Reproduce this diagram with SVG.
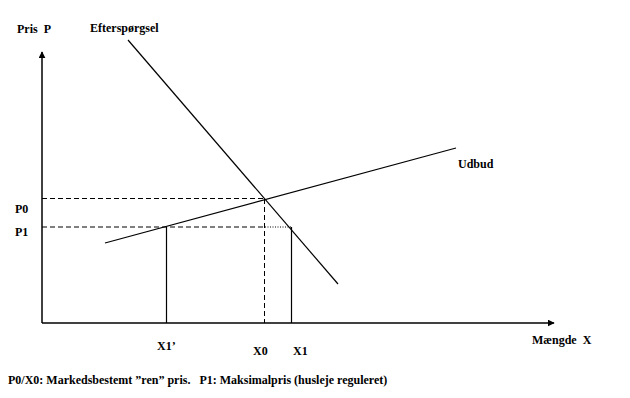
<svg xmlns="http://www.w3.org/2000/svg" width="630" height="398" viewBox="0 0 630 398">
<style>
text{font-family:'Liberation Serif','DejaVu Serif',serif;font-weight:bold;font-size:12px;fill:#000;white-space:pre}
.ax{stroke:#000;stroke-width:1.5;fill:none}
.ln{stroke:#000;stroke-width:1.2;fill:none}
.dash{stroke:#000;stroke-width:1;stroke-dasharray:5,3;fill:none}
.dot{stroke:#000;stroke-width:1;stroke-dasharray:1,1.5;fill:none}
</style>
<defs>
<marker id="arr" viewBox="0 0 10 10" refX="9" refY="5" markerWidth="7" markerHeight="7" orient="auto" markerUnits="userSpaceOnUse"><path d="M0,0 L10,5 L0,10 z" fill="#000"/></marker>
</defs>
<rect width="630" height="398" fill="#fff"/>
<g id="connectors">
<line class="ax" x1="42" y1="323" x2="42" y2="52" marker-end="url(#arr)"/>
<line class="ax" x1="42" y1="323" x2="554" y2="323" marker-end="url(#arr)"/>
<line id="demand" class="ln" x1="128" y1="40" x2="338" y2="284"/>
<line id="supply" class="ln" x1="105" y1="243" x2="456" y2="148"/>
<line class="dash" x1="42" y1="198.5" x2="265" y2="198.5"/>
<line class="dash" x1="42" y1="227" x2="265" y2="227"/>
<line class="dot" x1="265" y1="227" x2="291" y2="227"/>
<line class="dash" x1="264.5" y1="199" x2="264.5" y2="323"/>
<line class="ln" x1="166.5" y1="227" x2="166.5" y2="323"/>
<line class="ln" x1="291.5" y1="227" x2="291.5" y2="323"/>
</g>
<g id="labels" xml:space="preserve">
<text x="17" y="33">Pris  P</text>
<text x="90" y="32">Efterspørgsel</text>
<text x="458" y="168">Udbud</text>
<text x="15" y="213">P0</text>
<text x="15" y="236">P1</text>
<text x="157" y="350">X1’</text>
<text x="253" y="355">X0</text>
<text x="293" y="355">X1</text>
<text x="532" y="344">Mængde  X</text>
<text x="8" y="384">P0/X0: Markedsbestemt ”ren” pris.   P1: Maksimalpris (husleje reguleret)</text>
</g>
</svg>
